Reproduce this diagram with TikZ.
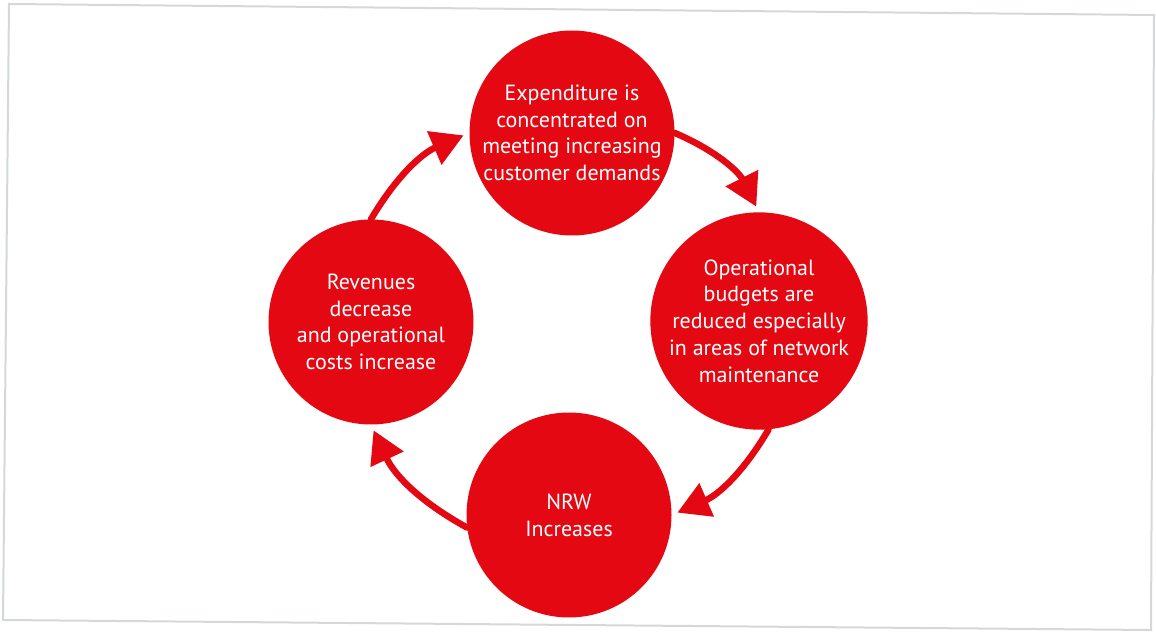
\documentclass[tikz,border=0pt]{standalone}
\usepackage{fontspec}
\setmainfont{PT Sans}
\usetikzlibrary{arrows.meta}
\definecolor{cyclered}{RGB}{227,8,17}
\definecolor{framegray}{RGB}{212,216,216}

\begin{document}
\begin{tikzpicture}[line cap=round]

%---- STYLES ----
\tikzset{
    bubble/.style={circle, fill=cyclered, text=white, minimum size=4.1cm,
        inner sep=0pt, align=center, font=\fontsize{12.5}{15.2}\selectfont},
    cyc/.style={-{Triangle[length=0.64cm, width=0.7cm]}, cyclered,
        line width=0.13cm, shorten >=0.12cm},
}

% CANVAS AND FRAME
\useasboundingbox (0,0) rectangle (23.12,12.64);
\draw[framegray, line width=0.04cm]
    (0.18,12.56) -- (23.08,12.34) -- (23.02,0.04) -- (0.06,0.24) -- cycle;

%---- CIRCLES ----
\node[bubble] (exp) at (11.44,9.98)
    {Expenditure is\\concentrated on\\meeting increasing\\customer demands};
\node[bubble] (bud) at (15.18,6.22)
    {Operational\\budgets are\\reduced especially\\in areas of network\\maintenance};
\node[bubble] (nrw) at (11.38,2.34) {NRW\\Increases};
\node[bubble] (rev) at (7.42,6.20)
    {Revenues\\decrease\\and operational\\costs increase};

%---- CYCLE ARROWS ----
\draw[cyc] (rev.north) to[bend left=18] (exp.west);
\draw[cyc] (exp.east) to[bend left=20] (bud.north);
\draw[cyc] (bud.-85) to[bend left=18] (nrw.east);
\draw[cyc] (nrw.187) to[bend left=18] (rev.south);

\end{tikzpicture}
\end{document}
